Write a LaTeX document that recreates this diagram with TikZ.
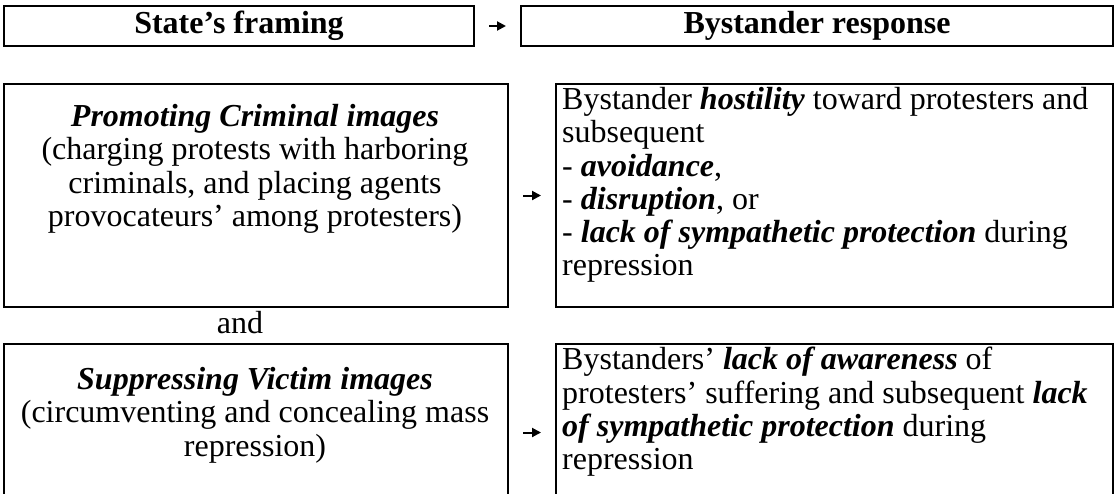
\documentclass[tikz,border=0pt]{standalone}
\usepackage{fontspec}
\setmainfont{Liberation Serif}
\usetikzlibrary{arrows.meta}
\newcommand{\bxi}[1]{\textbf{\textit{#1}}}
\newcommand{\fs}{\fontsize{32}{33.3}\selectfont}

\begin{document}
\begin{tikzpicture}[
    x=1pt, y=-1pt,
    frame/.style={draw, line width=2pt, inner sep=0pt, anchor=north west, font=\fs},
    txt/.style={inner sep=0pt, font=\fs},
    arr/.style={-{Triangle[length=9pt,width=9pt]}, line width=2pt, shorten <=14pt, shorten >=14pt}
]
\useasboundingbox (0,0) rectangle (1115,493);

\node[frame, minimum width=470pt, minimum height=40pt] (framing) at (3,5) {\textbf{State’s framing}\vphantom{p}};
\node[frame, minimum width=592pt, minimum height=40pt] (response) at (520,5) {\textbf{Bystander response}};

\node[frame, minimum width=504pt, minimum height=223pt] (crim) at (3,83) {};
\node[frame, minimum width=557pt, minimum height=223pt] (hostile) at (555,83) {};
\node[frame, minimum width=504pt, minimum height=177pt] (victim) at (3,343) {};
\node[frame, minimum width=557pt, minimum height=177pt] (unaware) at (555,343) {};

\node[txt, anchor=north, align=center] (crimtxt) at (255,104) {\bxi{Promoting Criminal images}\\(charging protests with harboring\\criminals, and placing agents\\provocateurs’ among protesters)};
\node[txt, anchor=north west, align=left] (hostiletxt) at (562,87) {Bystander \bxi{hostility} toward protesters and\\subsequent\\- \bxi{avoidance},\\- \bxi{disruption}, or\\- \bxi{lack of sympathetic protection} during\\repression};
\node[txt, anchor=north, align=center] (victimtxt) at (255,367) {\bxi{Suppressing Victim images}\\(circumventing and concealing mass\\repression)};
\node[txt, anchor=north west, align=left] (unawaretxt) at (562,347) {Bystanders’ \bxi{lack of awareness} of\\protesters’ suffering and subsequent \bxi{lack}\\\bxi{of sympathetic protection} during\\repression};

\node[txt] (and) at (240,323) {and};

\draw[arr] (framing) -- (response);
\draw[arr] (crim) -- (hostile);
\draw[arr] (victim) -- (unaware);
\end{tikzpicture}
\end{document}
